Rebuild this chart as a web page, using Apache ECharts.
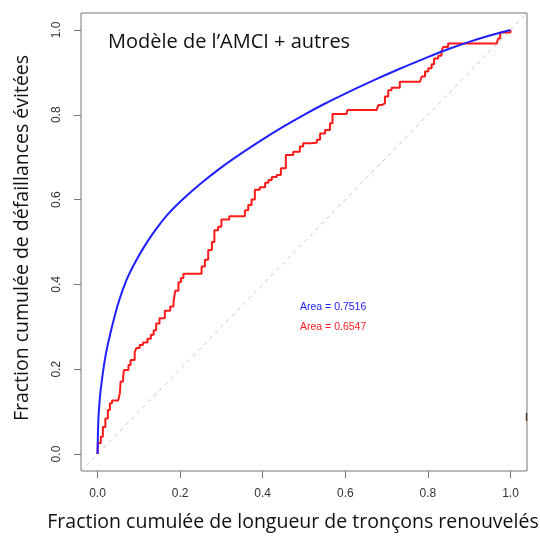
<!DOCTYPE html>
<html>
<head>
<meta charset="utf-8">
<script src="https://cdn.jsdelivr.net/npm/echarts@6/dist/echarts.min.js"></script>
<style>html,body{margin:0;padding:0;background:#fff}#c{width:540px;height:536px}</style>
</head>
<body>
<div id="c"></div>
<script>
// ---- data ----
const tickValues = [0, 0.2, 0.4, 0.6, 0.8, 1.0];
const tickLabels = ['0.0', '0.2', '0.4', '0.6', '0.8', '1.0'];

// Model curve (blue), [x, y]
const modelCurve = [
  [0, 0], [0.002, 0.08], [0.005, 0.125], [0.01, 0.17], [0.02, 0.235],
  [0.035, 0.3], [0.05, 0.355], [0.07, 0.41], [0.09, 0.45], [0.115, 0.492],
  [0.14, 0.528], [0.17, 0.565], [0.2, 0.595], [0.25, 0.638], [0.3, 0.676],
  [0.35, 0.71], [0.4, 0.742], [0.45, 0.772], [0.5, 0.8], [0.55, 0.826],
  [0.6, 0.85], [0.65, 0.873], [0.7, 0.895], [0.75, 0.916], [0.8, 0.936],
  [0.85, 0.955], [0.9, 0.972], [0.95, 0.987], [1, 1]
];

// Empirical curve (red), [x, y]
const empiricalCurve = [
  [0, 0], [0.001, 0.026], [0.008, 0.041], [0.013, 0.064], [0.019, 0.084],
  [0.025, 0.104], [0.03, 0.12], [0.035, 0.126], [0.05, 0.126], [0.054, 0.143],
  [0.056, 0.171], [0.062, 0.182], [0.064, 0.198], [0.075, 0.21], [0.08, 0.222],
  [0.09, 0.24], [0.094, 0.25], [0.102, 0.257], [0.11, 0.263], [0.121, 0.272],
  [0.129, 0.281], [0.136, 0.292], [0.142, 0.308], [0.15, 0.32], [0.163, 0.338],
  [0.176, 0.348], [0.184, 0.358], [0.188, 0.385], [0.196, 0.405], [0.202, 0.415],
  [0.208, 0.425], [0.246, 0.425], [0.252, 0.442], [0.26, 0.458], [0.268, 0.481],
  [0.277, 0.5], [0.283, 0.528], [0.292, 0.536], [0.3, 0.553], [0.319, 0.561],
  [0.349, 0.561], [0.357, 0.575], [0.365, 0.587], [0.373, 0.6], [0.381, 0.623],
  [0.393, 0.629], [0.406, 0.64], [0.414, 0.646], [0.422, 0.653], [0.434, 0.658],
  [0.444, 0.674], [0.456, 0.705], [0.474, 0.713], [0.49, 0.725], [0.498, 0.733],
  [0.515, 0.734], [0.531, 0.741], [0.539, 0.756], [0.551, 0.764], [0.563, 0.78],
  [0.569, 0.802], [0.603, 0.802], [0.605, 0.811], [0.676, 0.811], [0.68, 0.823],
  [0.688, 0.827], [0.696, 0.843], [0.704, 0.858], [0.712, 0.864], [0.732, 0.878],
  [0.781, 0.878], [0.785, 0.89], [0.793, 0.902], [0.801, 0.91], [0.809, 0.919],
  [0.815, 0.933], [0.825, 0.939], [0.833, 0.95], [0.837, 0.96], [0.849, 0.968],
  [0.967, 0.968], [0.97, 0.98], [0.975, 0.994], [0.99, 0.994], [1, 1]
];

// Reference diagonal (grey dashed)
const diagonal = [[-0.04, -0.04], [1.04, 1.04]];

const areaLabels = ['Area = 0.7516', 'Area = 0.6547'];
const titleText = 'Modèle de l’AMCI + autres';
const xTitle = 'Fraction cumulée de longueur de tronçons renouvelés';
const yTitle = 'Fraction cumulée de défaillances évitées';

// ---- chart ----
const chart = echarts.init(document.getElementById('c'), null, {renderer: 'canvas'});
const tickFont = {fontFamily: 'Liberation Sans', fontSize: 12, color: '#333'};
const bigFont = '19.5px "Open Sans"';
const fmt = v => { const i = tickValues.findIndex(t => Math.abs(t - v) < 1e-9); return i >= 0 ? tickLabels[i] : ''; };

chart.setOption({
  animation: false,
  grid: {left: 81, top: 13, width: 446, height: 458, show: true, borderColor: '#777', borderWidth: 1, backgroundColor: 'transparent'},
  xAxis: {
    type: 'value', min: -0.04, max: 1.04, position: 'bottom',
    axisLine: {show: false, onZero: false},
    splitLine: {show: false},
    axisTick: {show: true, inside: false, length: 7, customValues: tickValues, lineStyle: {color: '#777'}},
    axisLabel: Object.assign({customValues: tickValues, margin: 17, formatter: fmt}, tickFont)
  },
  yAxis: {
    type: 'value', min: -0.04, max: 1.04, position: 'left',
    axisLine: {show: false, onZero: false},
    splitLine: {show: false},
    axisTick: {show: true, inside: false, length: 7, customValues: tickValues, lineStyle: {color: '#777'}},
    axisLabel: Object.assign({customValues: tickValues, margin: 18, rotate: 90, formatter: fmt}, tickFont)
  },
  series: [
    {type: 'line', data: diagonal, showSymbol: false, symbol: 'none', clip: true,
     lineStyle: {color: '#c8c8c8', width: 1, type: [4, 4]}, z: 1},
    {type: 'line', data: modelCurve, showSymbol: false, symbol: 'none', smooth: 0.3,
     lineStyle: {color: '#1f1fff', width: 2}, z: 3},
    {type: 'line', data: empiricalCurve, showSymbol: false, symbol: 'none', step: 'end',
     lineStyle: {color: '#ff1a1a', width: 2}, z: 2}
  ],
  graphic: [
    {type: 'text', x: 108, y: 42, style: {text: titleText, font: '20px "Open Sans"', fill: '#111', align: 'left', verticalAlign: 'middle'}},
    {type: 'text', x: 300, y: 307, style: {text: areaLabels[0], font: '10.5px "Liberation Sans"', fill: '#2222ff', align: 'left', verticalAlign: 'middle'}},
    {type: 'text', x: 300, y: 327, style: {text: areaLabels[1], font: '10.5px "Liberation Sans"', fill: '#ff2222', align: 'left', verticalAlign: 'middle'}},
    {type: 'text', x: 293, y: 522, style: {text: xTitle, font: bigFont, fill: '#111', align: 'center', verticalAlign: 'middle'}},
    {type: 'text', x: 22, y: 238, rotation: Math.PI / 2, style: {text: yTitle, font: bigFont, fill: '#111', align: 'center', verticalAlign: 'middle'}},
    {type: 'line', shape: {x1: 526.5, y1: 413, x2: 526.5, y2: 421}, style: {stroke: '#5a3a2a', lineWidth: 1.5}}
  ]
});
</script>
</body>
</html>
